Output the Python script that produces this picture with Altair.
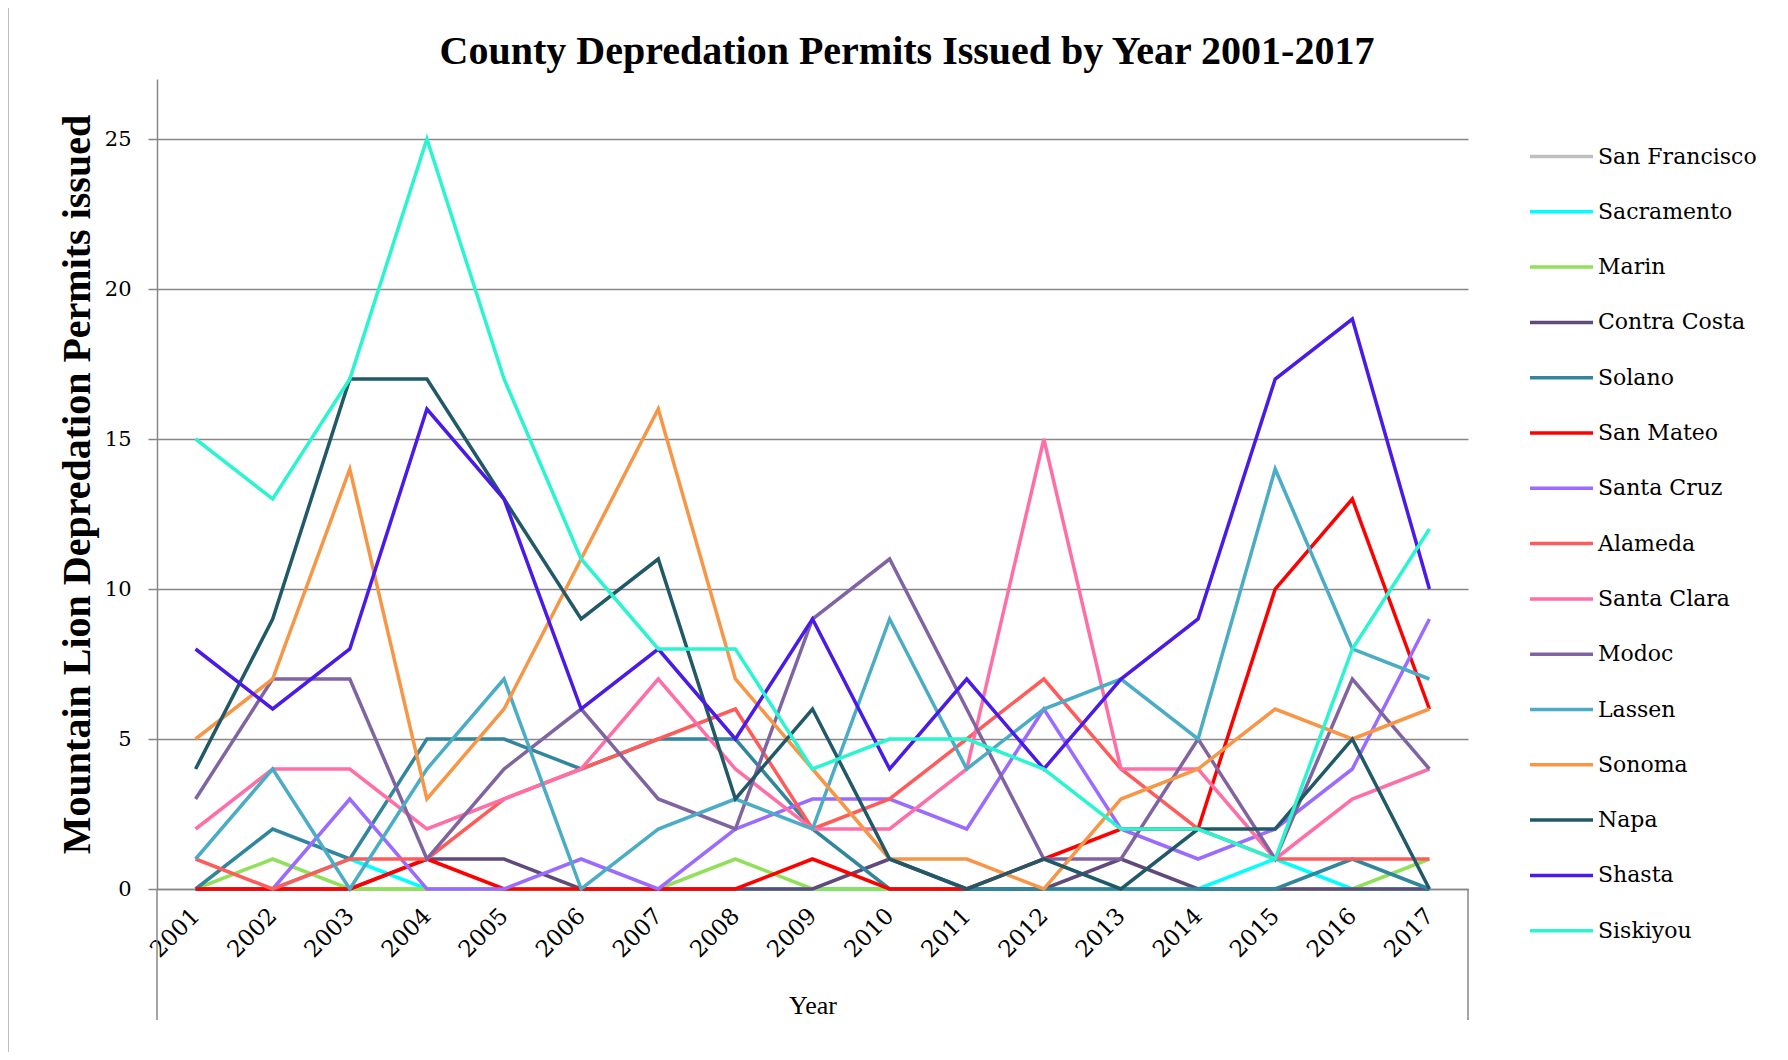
import altair as alt
import pandas as pd

years = [str(y) for y in range(2001, 2018)]

counties = ["San Francisco", "Sacramento", "Marin", "Contra Costa", "Solano",
            "San Mateo", "Santa Cruz", "Alameda", "Santa Clara", "Modoc",
            "Lassen", "Sonoma", "Napa", "Shasta", "Siskiyou"]

san_francisco = [0, 0, 0, 0, 0, 0, 0, 0, 0, 0, 0, 0, 0, 0, 0, 0, 0]
sacramento = [0, 0, 1, 0, 0, 0, 0, 0, 0, 0, 0, 0, 0, 0, 1, 0, 0]
marin = [0, 1, 0, 0, 0, 0, 0, 1, 0, 0, 0, 0, 0, 0, 0, 0, 1]
contra_costa = [0, 0, 0, 1, 1, 0, 0, 0, 0, 1, 0, 0, 1, 0, 0, 0, 0]
solano = [0, 2, 1, 5, 5, 4, 5, 5, 2, 0, 0, 0, 0, 0, 0, 1, 0]
san_mateo = [0, 0, 0, 1, 0, 0, 0, 0, 1, 0, 0, 1, 2, 2, 10, 13, 6]
santa_cruz = [None, 0, 3, 0, 0, 1, 0, 2, 3, 3, 2, 6, 2, 1, 2, 4, 9]
alameda = [1, 0, 1, 1, 3, 4, 5, 6, 2, 3, 5, 7, 4, 2, 1, 1, 1]
santa_clara = [2, 4, 4, 2, 3, 4, 7, 4, 2, 2, 4, 15, 4, 4, 1, 3, 4]
modoc = [3, 7, 7, 1, 4, 6, 3, 2, 9, 11, 6, 1, 1, 5, 1, 7, 4]
lassen = [1, 4, 0, 4, 7, 0, 2, 3, 2, 9, 4, 6, 7, 5, 14, 8, 7]
sonoma = [5, 7, 14, 3, 6, 11, 16, 7, 4, 1, 1, 0, 3, 4, 6, 5, 6]
napa = [4, 9, 17, 17, 13, 9, 11, 3, 6, 1, 0, 1, 0, 2, 2, 5, 0]
shasta = [8, 6, 8, 16, 13, 6, 8, 5, 9, 4, 7, 4, 7, 9, 17, 19, 10]
siskiyou = [15, 13, 17, 25, 17, 11, 8, 8, 4, 5, 5, 4, 2, 2, 1, 8, 12]

title_text = ["County Depredation Permits Issued by Year 2001-2017"]

series = [san_francisco, sacramento, marin, contra_costa, solano, san_mateo,
          santa_cruz, alameda, santa_clara, modoc, lassen, sonoma, napa,
          shasta, siskiyou]

colors = ["#BFBFBF", "#00FFFF", "#92E05A", "#604A7B", "#31859C", "#FF0000",
          "#9B6BFF", "#FF5B5B", "#FF6EA6", "#8064A2", "#4BACC6", "#F79646",
          "#215968", "#4A1AE8", "#2BF5D0"]
widths = [3.5, 3.5, 3.5, 3.5, 3.5, 5, 3.5, 3.5, 3.5, 3.5, 5, 3.5, 3.5, 3.5, 3.5]

rows = []
for name, vals in zip(counties, series):
    for yr, v in zip(years, vals):
        if v is not None:
            rows.append({"county": name, "year": yr, "permits": v})
df = pd.DataFrame(rows)

W, H = 1311, 810
GRAY = "#878787"

lines = alt.Chart(df).mark_line(strokeJoin="miter", strokeCap="butt").encode(
    x=alt.X("year:O", sort=years, title="Year",
            scale=alt.Scale(type="point", padding=0.5),
            axis=alt.Axis(labelAngle=-45, labelAlign="right", labelBaseline="middle",
                          labelFont="DejaVu Serif", labelFontSize=23, labelColor="black",
                          labelPadding=23, ticks=False, domainColor=GRAY, domainWidth=1.5,
                          titleFont="Liberation Serif", titleFontSize=26,
                          titleFontWeight="normal", titleColor="black",
                          titleX=W / 2, titleY=116, titleBaseline="middle")),
    y=alt.Y("permits:Q", title="Mountain Lion Depredation Permits issued",
            scale=alt.Scale(domain=[0, 27], nice=False),
            axis=alt.Axis(values=[0, 5, 10, 15, 20, 25], labelFont="DejaVu Serif",
                          labelFontSize=21, labelColor="black", labelPadding=17,
                          tickSize=9, tickColor=GRAY, tickWidth=1.5,
                          domainColor=GRAY, domainWidth=1.5,
                          gridColor=GRAY, gridWidth=1.5,
                          titleFont="Liberation Serif", titleFontSize=40,
                          titleFontWeight="bold", titleColor="black",
                          titleAngle=-90, titleX=-80, titleY=H / 2,
                          titleAlign="center", titleBaseline="middle")),
    color=alt.Color("county:N", sort=counties,
                    scale=alt.Scale(domain=counties, range=colors),
                    legend=alt.Legend(title=None, orient="none", legendX=1371,
                                      legendY=44, symbolType="stroke",
                                      symbolSize=3969, symbolStrokeWidth=4,
                                      labelFont="DejaVu Serif", labelFontSize=22,
                                      labelColor="black", rowPadding=10.3,
                                      labelOffset=3, padding=0,
                                      labelLimit=300)),
    strokeWidth=alt.StrokeWidth("county:N",
                                scale=alt.Scale(domain=counties, range=widths),
                                legend=None),
    order=alt.Order("year:O"),
)

one = pd.DataFrame({"k": [0]})
left_ext = alt.Chart(one).mark_rule(color=GRAY, strokeWidth=1.5).encode(
    x=alt.value(0), y=alt.value(H), y2=alt.value(H + 131))
right_ext = alt.Chart(one).mark_rule(color=GRAY, strokeWidth=1.5).encode(
    x=alt.value(W), y=alt.value(H), y2=alt.value(H + 131))
border = alt.Chart(one).mark_rule(color="#BFBFBF", strokeWidth=1).encode(
    x=alt.value(-148.5), y=alt.value(-71), y2=alt.value(H + 163))

title = alt.Chart(pd.DataFrame({"t": title_text})).mark_text(
    font="Liberation Serif", fontSize=40, fontWeight="bold", color="black",
    align="center", baseline="alphabetic").encode(
    text="t:N", x=alt.value(750), y=alt.value(-15))

chart = alt.layer(lines, left_ext, right_ext, border, title).properties(
    width=W, height=H,
    background="white",
    autosize=alt.AutoSizeParams(type="none"),
    padding={"left": 149, "top": 71, "right": 312, "bottom": 163},
).configure_view(strokeWidth=0)

chart.save("out.html", embed_options={"renderer": "svg", "actions": False})
